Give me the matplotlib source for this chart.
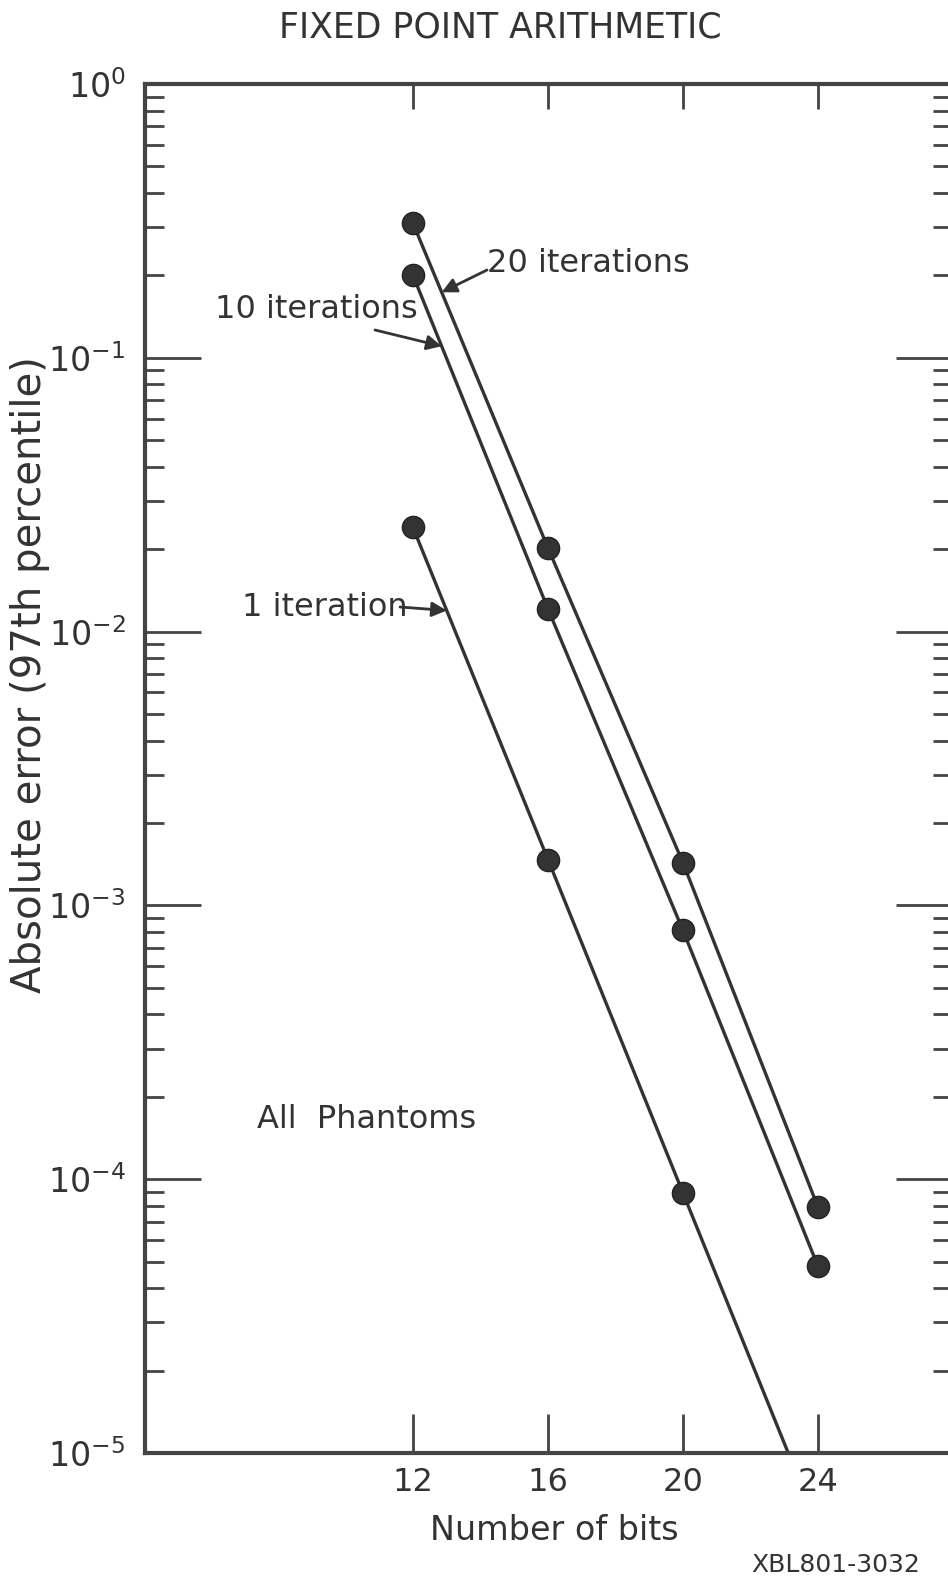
import numpy as np
import matplotlib
matplotlib.use('Agg')
import matplotlib.pyplot as plt
from matplotlib.ticker import LogLocator, NullFormatter, FixedLocator

# values
bits = [12, 16, 20, 24]
err_20 = [0.31, 0.0202, 0.00143, 7.9e-5]
err_10 = [0.20, 0.0121, 0.00081, 4.8e-5]
bits_1 = [12, 16, 20]
err_1 = [0.024, 0.00147, 8.9e-5]

ink = '#333333'
plt.rcParams['font.family'] = ['DejaVu Sans']

W, H = 948, 1580
fig = plt.figure(figsize=(W / 100, H / 100), dpi=100)
ax = fig.add_axes([145 / W, 1 - 1453 / H, (952 - 145) / W, (1453 - 84) / H])

ax.set_yscale('log')
ax.set_xlim(4.06, 27.97)
ax.set_ylim(1e-5, 1e0)

ax.plot(bits, err_20, color=ink, lw=2.4, marker='o', ms=16, mfc=ink, mec='#222222', zorder=3)
ax.plot(bits, err_10, color=ink, lw=2.4, marker='o', ms=16, mfc=ink, mec='#222222', zorder=3)
ax.plot(bits_1, err_1, color=ink, lw=2.4, marker='o', ms=16, mfc=ink, mec='#222222', zorder=3)

# 1 iteration line runs on past the last point, down to the axis
slope = (np.log10(err_1[-1]) - np.log10(err_1[-2])) / (bits_1[-1] - bits_1[-2])
x_end = bits_1[-1] + (np.log10(ax.get_ylim()[0]) - np.log10(err_1[-1])) / slope
ax.plot([bits_1[-1], x_end], [err_1[-1], ax.get_ylim()[0]], color=ink, lw=2.4, zorder=2)

for s in ax.spines.values():
    s.set_linewidth(3)
    s.set_color('#444444')
ax.spines['right'].set_visible(False)

ax.xaxis.set_major_locator(FixedLocator(bits))
ax.set_xticklabels([str(b) for b in bits])
ax.yaxis.set_major_locator(LogLocator(base=10, numticks=10))
ax.yaxis.set_minor_locator(LogLocator(base=10, subs=np.arange(2, 10), numticks=20))
ax.yaxis.set_minor_formatter(NullFormatter())

ax.tick_params(axis='x', which='major', direction='in', length=28, width=2,
               color='#444444', labelsize=23, labelcolor=ink, pad=10, top=False)
ax.tick_params(axis='y', which='major', direction='in', length=40, width=2,
               color='#444444', labelsize=24, labelcolor=ink, pad=14, right=False)
ax.tick_params(axis='y', which='minor', direction='in', length=14, width=2,
               color='#444444', right=False)

top = ax.secondary_xaxis('top')
top.xaxis.set_major_locator(FixedLocator(bits))
top.tick_params(direction='in', length=18, width=2, color='#444444', labeltop=False)
top.spines['top'].set_visible(False)

right = ax.secondary_yaxis('right')
right.yaxis.set_major_locator(LogLocator(base=10, numticks=10))
right.yaxis.set_minor_locator(LogLocator(base=10, subs=np.arange(2, 10), numticks=20))
right.tick_params(which='major', direction='in', length=40, width=2, color='#444444', labelright=False)
right.tick_params(which='minor', direction='in', length=14, width=2, color='#444444', labelright=False)
right.spines['right'].set_visible(False)


def fx(px):
    return px / W


def fy(py):
    return 1 - py / H


def on_line(xs, ys, x):
    return 10 ** np.interp(x, xs, np.log10(ys))


fig.text(fx(500), fy(27), 'FIXED POINT ARITHMETIC', ha='center', va='center', fontsize=25, color=ink)
fig.text(fx(30), fy(675), 'Absolute error (97th percentile)', rotation=90,
         ha='center', va='center', fontsize=29, color=ink)
fig.text(fx(554), fy(1530), 'Number of bits', ha='center', va='center', fontsize=24, color=ink)
fig.text(fx(920), fy(1565), 'XBL801-3032', ha='right', va='center', fontsize=18, color=ink)

fig.text(fx(487), fy(264), '20 iterations', ha='left', va='center', fontsize=23, color=ink)
fig.text(fx(215), fy(310), '10 iterations', ha='left', va='center', fontsize=23, color=ink)
fig.text(fx(242), fy(607), '1 iteration', ha='left', va='center', fontsize=23, color=ink)
fig.text(fx(257), fy(1120), 'All  Phantoms', ha='left', va='center', fontsize=23, color=ink)

arrow = dict(arrowstyle='-|>', lw=2, color=ink, mutation_scale=22, shrinkA=0, shrinkB=0)
ax.annotate('', xy=(12.85, on_line(bits, err_20, 12.85)), xycoords='data',
            xytext=(fx(487), fy(270)), textcoords='figure fraction', arrowprops=arrow)
ax.annotate('', xy=(12.85, on_line(bits, err_10, 12.85)), xycoords='data',
            xytext=(fx(375), fy(330)), textcoords='figure fraction', arrowprops=arrow)
ax.annotate('', xy=(13.0, on_line(bits_1, err_1, 13.0)), xycoords='data',
            xytext=(fx(400), fy(607)), textcoords='figure fraction', arrowprops=arrow)

fig.savefig('out.png', dpi=100)
